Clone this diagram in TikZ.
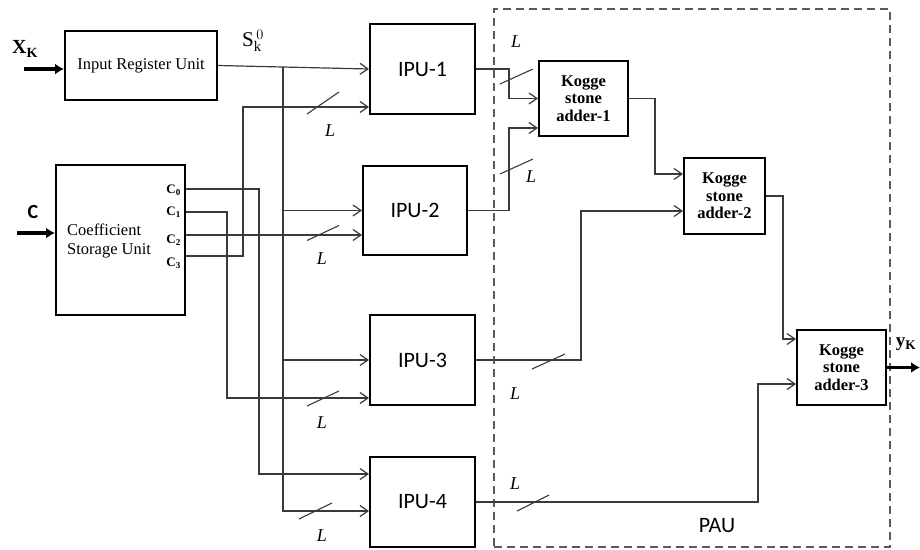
\documentclass[tikz,border=0pt]{standalone}
\usepackage{fontspec}
\setmainfont{Liberation Serif}
\newfontfamily\calib{Carlito}
\usetikzlibrary{arrows.meta,calc}
\definecolor{wirecol}{HTML}{3A3A3A}
\definecolor{dashcol}{HTML}{5A5A5A}

\begin{document}
\begin{tikzpicture}[
    x=1pt, y=-1pt,
    box/.style={draw, line width=2pt, inner sep=0pt, align=center},
    ipu/.style={box, minimum width=105pt, minimum height=90pt, font=\calib\fontsize{22}{26}\selectfont},
    ksa/.style={box, minimum width=89pt, minimum height=75pt, font=\bfseries\fontsize{16.5}{17.5}\selectfont},
    arrow/.style={draw=wirecol, line width=1.2pt, -{Straight Barb[length=8pt, width=11pt]}},
    busline/.style={draw=wirecol, line width=1.1pt},
    inarrow/.style={line width=3.2pt, -{Latex[length=9pt, width=11pt]}},
    buslbl/.style={font=\itshape\fontsize{18}{20}\selectfont, inner sep=0pt},
    coef/.style={font=\bfseries\fontsize{13}{15}\selectfont, inner sep=0pt, anchor=east}
]
\useasboundingbox (0,0) rectangle (920,549);

\node[draw=dashcol, dash pattern=on 8pt off 5pt, line width=1.2pt, minimum width=396pt, minimum height=538pt] (paubox) at (692,278) {};
\node[font=\calib\fontsize{22}{26}\selectfont, inner sep=0pt] (pau) at (717,526) {PAU};

\node[box, minimum width=152pt, minimum height=69pt, font=\fontsize{16.5}{18}\selectfont] (iru) at (141,65.5) {Input Register Unit};
\node[box, minimum width=129pt, minimum height=150pt] (csu) at (120.5,240) {};
\node[anchor=west, align=left, inner sep=0pt, font=\fontsize{16.5}{18.5}\selectfont] (csutext) at (67,241) {Coefficient\\Storage Unit};
\node[coef] (c0) at (181,190) {C\textsubscript{0}};
\node[coef] (c1) at (181,212) {C\textsubscript{1}};
\node[coef] (c2) at (181,240) {C\textsubscript{2}};
\node[coef] (c3) at (181,263) {C\textsubscript{3}};

\node[ipu] (ipu1) at (422.5,69) {IPU-1};
\node[ipu, minimum width=104pt, minimum height=89pt] (ipu2) at (415,210.5) {IPU-2};
\node[ipu] (ipu3) at (422.5,360) {IPU-3};
\node[ipu] (ipu4) at (422.5,502) {IPU-4};

\node[ksa] (ksa1) at (583.5,98.5) {Kogge\\stone\\adder-1};
\node[ksa, minimum width=81pt, minimum height=76pt] (ksa2) at (724.5,196) {Kogge\\stone\\adder-2};
\node[ksa] (ksa3) at (841.5,367.5) {Kogge\\stone\\adder-3};

\node[font=\bfseries\fontsize{20}{22}\selectfont, inner sep=0pt] (xk) at (25,49) {X\textsubscript{K}};
\coordinate (xin) at (24,69);
\draw[inarrow] (xin) -- (iru.west |- xin);
\node[font=\calib\bfseries\fontsize{20}{22}\selectfont, inner sep=0pt] (clbl) at (33,212) {C};
\coordinate (cin) at (17,233);
\draw[inarrow] (cin) -- (csu.west |- cin);
\node[font=\fontsize{21}{23}\selectfont, inner sep=0pt] (sk) at (253,41) {S$_{\mathrm{k}}^{\,0}$};
\node[font=\bfseries\fontsize{19}{21}\selectfont, inner sep=0pt] (yk) at (906,344) {y\textsubscript{K}};

\coordinate (s0) at (283,67);
\draw[arrow] (iru.east) -- (ipu1.west);
\draw[arrow] (s0) |- ($(ipu4.west)+(0,9)$);
\draw[arrow] (s0 |- ipu2.west) -- (ipu2.west);
\draw[arrow] (s0 |- ipu3.west) -- (ipu3.west);

\draw[arrow] ($(csu.east)+(0,16)$) -- ++(57,0) |- ($(ipu1.west)+(0,38)$);
\draw[arrow] ($(csu.east)+(0,-5)$) -- ($(ipu2.west)+(0,24.5)$);
\draw[arrow] ($(csu.east)+(0,-28)$) -- ++(41,0) |- ($(ipu3.west)+(0,38)$);
\draw[arrow] ($(csu.east)+(0,-51)$) -- ++(73,0) |- ($(ipu4.west)+(0,-28)$);

\draw[busline] (323,103) +(-16,11) -- +(16,-11);
\node[buslbl] (l1) at (330,131) {L};
\draw[busline] (323,233) +(-16,7.5) -- +(16,-7.5);
\node[buslbl] (l2) at (322,259) {L};
\draw[busline] (323,398.5) +(-16,7.5) -- +(16,-7.5);
\node[buslbl] (l3) at (322,423) {L};
\draw[busline] (315.5,511) +(-16.5,8) -- +(16.5,-8);
\node[buslbl] (l4) at (322,536) {L};

\draw[arrow] (ipu1.east) -- ++(33,0) |- (ksa1.west);
\draw[arrow] (ipu2.east) -- ++(41,0) |- ($(ksa1.west)+(0,29.5)$);
\draw[arrow] (ksa1.east) -- ++(26,0) |- ($(ksa2.west)+(0,-22)$);
\draw[arrow] (ipu3.east) -- ++(105,0) |- ($(ksa2.west)+(0,15)$);
\draw[arrow] (ksa2.east) -- ++(17,0) |- ($(ksa3.west)+(0,-28.5)$);
\draw[arrow] (ipu4.east) -- ++(282,0) |- ($(ksa3.west)+(0,16.5)$);
\coordinate (yout) at (920,367.5);
\draw[inarrow] (ksa3.east) -- (yout);

\draw[busline] (516.5,76.5) +(-16.5,7.5) -- +(16.5,-7.5);
\node[buslbl] (l5) at (516,42) {L};
\draw[busline] (516.5,166.5) +(-16.5,7.5) -- +(16.5,-7.5);
\node[buslbl] (l6) at (531,177) {L};
\draw[busline] (548.5,361.5) +(-16.5,7.5) -- +(16.5,-7.5);
\node[buslbl] (l7) at (515,394) {L};
\draw[busline] (533,503) +(-16,8) -- +(16,-8);
\node[buslbl] (l8) at (515,484) {L};
\end{tikzpicture}
\end{document}
